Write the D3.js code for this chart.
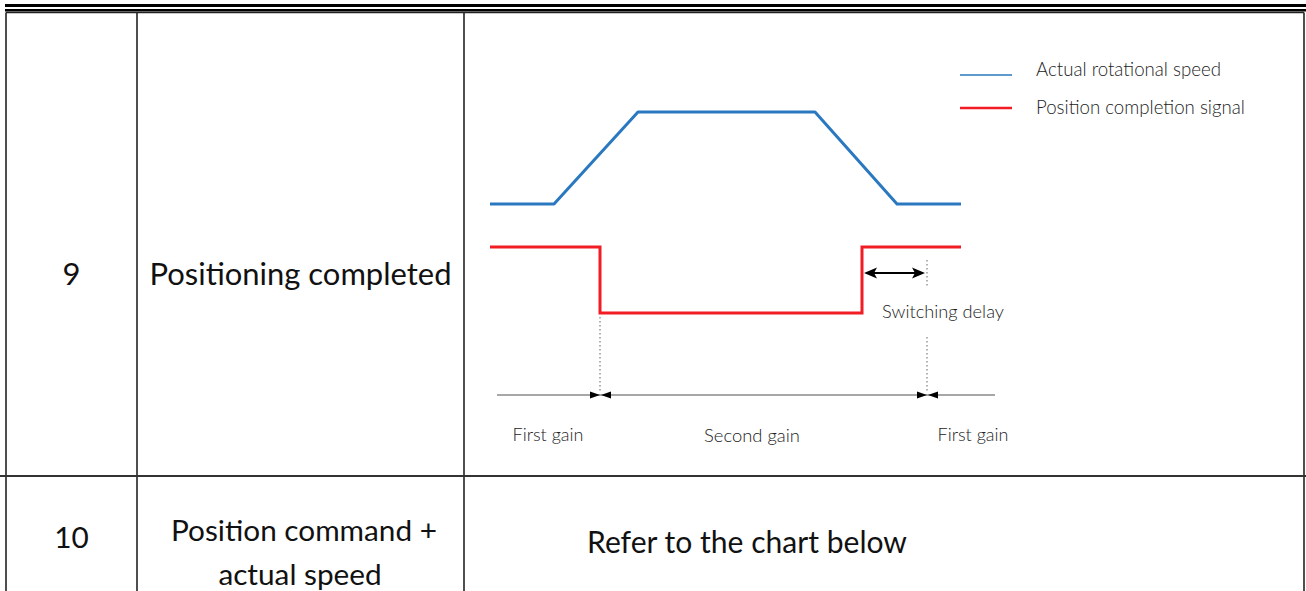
<!DOCTYPE html>
<html><head><meta charset="utf-8">
<script src="https://cdn.jsdelivr.net/npm/d3@7"></script>
<style>html,body{margin:0;padding:0;background:#fff;overflow:hidden}</style>
</head><body>
<svg id="c" width="1306" height="591"></svg>
<script>
// ---- data ----
const rowNumbers = ["9", "10"];
const rowNames = [["Positioning completed"], ["Position command +", "actual speed"]];
const rowContent = ["", "Refer to the chart below"];
const seriesNames = ["Actual rotational speed", "Position completion signal"];
const speedTimes = [0, 64, 148, 325, 407, 471];
const speedLevels = [0, 0, 1, 1, 0, 0];
const signalTimes = [0, 110, 110, 372, 372, 471];
const signalLevels = [1, 1, 0, 0, 1, 1];
const gainBoundaries = [110, 437];
const gainLabels = ["First gain", "Second gain", "First gain"];
const gainLabelTimes = [58, 262, 483];
const delayStart = 372, delayEnd = 437;
const delayLabel = "Switching delay";
const axisStart = 7, axisEnd = 505;

const svg = d3.select("#c");
const x = d3.scaleLinear().domain([0, 505]).range([490, 995]);
const ySpeed = d3.scaleLinear().domain([0, 1]).range([204, 112]);
const ySig = d3.scaleLinear().domain([0, 1]).range([313, 247]);
const blue = "#2a78bf", red = "#f21c24";

function fit(sel, target) {
  let size = 20;
  sel.each(function () {
    const t = d3.select(this);
    t.attr("font-size", 20);
    const w = this.getComputedTextLength();
    size = 20 * target / w;
    t.attr("font-size", size.toFixed(2));
  });
  return size;
}

// ---- page header double rule ----
svg.append("rect").attr("x", 5).attr("y", 4).attr("width", 1301).attr("height", 3).attr("fill", "#000");
svg.append("rect").attr("x", 5).attr("y", 9).attr("width", 1301).attr("height", 2).attr("fill", "#000");
svg.append("rect").attr("x", 5).attr("y", 11).attr("width", 1301).attr("height", 1).attr("fill", "#777");
svg.append("text").attr("x", 1300).attr("y", -2).attr("text-anchor", "end")
  .attr("font-family", "Lato, sans-serif").attr("font-size", 14).attr("font-weight", 700)
  .text("(continued)");

// ---- table grid ----
const colX = [6, 137, 464, 1304];
const rowY = [12.5, 476, 591];
const g = svg.append("g").attr("stroke", "#222").attr("stroke-width", 1.6);
colX.forEach(cx => g.append("line").attr("x1", cx).attr("x2", cx).attr("y1", rowY[0]).attr("y2", 591));
g.append("line").attr("x1", colX[0]).attr("x2", colX[3]).attr("y1", rowY[0]).attr("y2", rowY[0]);
g.append("line").attr("x1", 0).attr("x2", 1306).attr("y1", rowY[1]).attr("y2", rowY[1]).attr("stroke", "#333").attr("stroke-width", 2);

const tableFont = "Lato, 'Open Sans', sans-serif";
const tt = svg.append("g").attr("font-family", tableFont).attr("fill", "#111").attr("text-anchor", "middle");
// row 9
const s9 = fit(tt.append("text").attr("x", 300.5).attr("y", 277).attr("dominant-baseline", "middle").text(rowNames[0][0]), 302);
tt.append("text").attr("x", 71.5).attr("y", 277).attr("dominant-baseline", "middle").attr("font-size", s9.toFixed(2)).text(rowNumbers[0]);
// row 10
const s10 = fit(tt.append("text").attr("x", 304).attr("y", 533).attr("dominant-baseline", "middle").text(rowNames[1][0]), 266);
tt.append("text").attr("x", 300).attr("y", 577).attr("dominant-baseline", "middle").attr("font-size", s10.toFixed(2)).text(rowNames[1][1]);
tt.append("text").attr("x", 71.5).attr("y", 540).attr("dominant-baseline", "middle").attr("font-size", s10.toFixed(2)).text(rowNumbers[1]);
fit(tt.append("text").attr("x", 747).attr("y", 545).attr("dominant-baseline", "middle").text(rowContent[1]), 320);

// ---- timing chart ----
const chartFont = "Lato, 'Open Sans', sans-serif";
const line = d3.line().x(d => x(d[0])).y(d => d[1]);
svg.append("path")
  .attr("d", line(speedTimes.map((t, i) => [t, ySpeed(speedLevels[i])])))
  .attr("fill", "none").attr("stroke", blue).attr("stroke-width", 3).attr("stroke-linejoin", "round");
svg.append("path")
  .attr("d", line(signalTimes.map((t, i) => [t, ySig(signalLevels[i])])))
  .attr("fill", "none").attr("stroke", red).attr("stroke-width", 3).attr("stroke-linejoin", "miter");

// legend
const legY = [75, 108];
const legColors = [blue, red];
const legW = [1.5, 2.5];
seriesNames.forEach((n, i) => {
  svg.append("line").attr("x1", 960).attr("x2", 1012).attr("y1", legY[i]).attr("y2", legY[i])
    .attr("stroke", legColors[i]).attr("stroke-width", legW[i]);
  fit(svg.append("text").attr("x", 1036).attr("y", [71, 109][i]).attr("dominant-baseline", "middle")
    .attr("font-family", chartFont).attr("font-weight", 300).attr("fill", "#222").text(n), [185, 209][i]);
});

// time axis
const axisY = 395;
svg.append("line").attr("x1", x(axisStart)).attr("x2", x(axisEnd)).attr("y1", axisY).attr("y2", axisY)
  .attr("stroke", "#8a8a8a").attr("stroke-width", 1.5);

// dotted guide lines
const dots = [[gainBoundaries[0], 317, 391], [gainBoundaries[1], 260, 288], [gainBoundaries[1], 337, 392]];
dots.forEach(d => svg.append("line").attr("x1", x(d[0])).attr("x2", x(d[0])).attr("y1", d[1]).attr("y2", d[2])
  .attr("stroke", "#999").attr("stroke-width", 1.5).attr("stroke-dasharray", "1.5,2.5"));

// bow-tie arrowheads on axis
gainBoundaries.forEach(b => {
  const bx = x(b);
  svg.append("path").attr("d", `M${bx - 10},${axisY - 3.5}L${bx},${axisY}L${bx - 10},${axisY + 3.5}Z`).attr("fill", "#000");
  svg.append("path").attr("d", `M${bx + 11},${axisY - 3.5}L${bx + 1},${axisY}L${bx + 11},${axisY + 3.5}Z`).attr("fill", "#000");
});

// gain labels
gainLabels.forEach((l, i) => {
  fit(svg.append("text").attr("x", x(gainLabelTimes[i])).attr("y", 437).attr("text-anchor", "middle")
    .attr("dominant-baseline", "middle").attr("font-family", chartFont).attr("font-weight", 300)
    .attr("fill", "#222").text(l), [71, 96, 71][i]);
});

// switching delay double arrow
const ay = 273;
const x1 = x(delayStart) + 2, x2 = x(delayEnd) - 2;
svg.append("line").attr("x1", x1 + 6).attr("x2", x2 - 6).attr("y1", ay).attr("y2", ay).attr("stroke", "#000").attr("stroke-width", 2);
svg.append("path").attr("d", `M${x1},${ay}L${x1 + 13},${ay - 5.5}L${x1 + 10},${ay}L${x1 + 13},${ay + 5.5}Z`).attr("fill", "#000");
svg.append("path").attr("d", `M${x2},${ay}L${x2 - 13},${ay - 5.5}L${x2 - 10},${ay}L${x2 - 13},${ay + 5.5}Z`).attr("fill", "#000");
fit(svg.append("text").attr("x", 943).attr("y", 313).attr("text-anchor", "middle").attr("dominant-baseline", "middle")
  .attr("font-family", chartFont).attr("font-weight", 300).attr("fill", "#222").text(delayLabel), 122);
</script>
</body></html>
